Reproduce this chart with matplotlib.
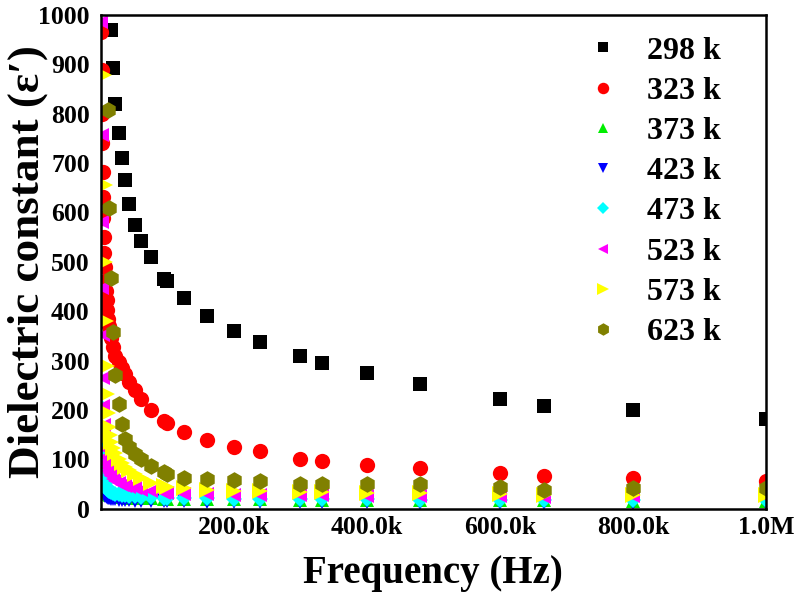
import numpy as np
import matplotlib
matplotlib.use("Agg")
import matplotlib.pyplot as plt

plt.rcParams['font.family'] = ['Liberation Serif', 'DejaVu Serif']
plt.rcParams['font.weight'] = 'bold'

nan = np.nan
freq = [500, 1000, 1500, 2000, 2500, 3000, 3500, 4000, 4500, 5000, 6000, 7000, 8000, 9000,
        10000, 11000, 12000, 13500,
        15000, 18000, 22000, 27000, 32000, 36000, 42000, 51000, 60000, 75000, 95000, 100000,
        125000, 160000, 200000, 240000, 300000, 333000, 400000, 480000, 600000, 666000,
        800000, 1000000]

eps_298 = [nan] * 18 + [970, 893, 820, 760, 710, 665, 617, 575, 543, 510, 465, 462,
                        427, 390, 360, 338, 310, 296, 275, 253, 222, 209, 199, 182]
eps_323 = [nan, 966, 888, 800, 740, 682, 631, 588, 550, 517, 490, 462, 440, 422, 402, 385, 370, 357,
           345, 327, 310, 298, 285, 272, 256, 240, 222, 199, 178, 174,
           156, 140, 124, 116, 101, 96, 88, 83, 73, 67, 63, 57]
eps_373 = [nan, 150, 110, 88, 72, 62, 55, 50, 46, 43, 40, 37, 35, 33, 31, 30, 29, 28,
           27, 26, 25, 24, 23, 23, 22, 22, 21, 21, 20, 20,
           20, 19, 19, 19, 18, 18, 18, 17, 17, 17, 16, 16]
eps_423 = [nan, 110, 75, 55, 45, 40, 36, 33, 31, 29, 27, 26, 25, 24, 23, 22, 21, 21,
           20, 19, 19, 18, 18, 17, 17, 16, 16, 16, 15, 15,
           15, 14, 14, 14, 13, 13, 13, 12, 12, 12, 11, 11]
eps_473 = [nan, 205, 160, 120, 95, 80, 70, 63, 58, 54, 50, 46, 43, 41, 39, 37, 36, 35,
           34, 32, 30, 29, 28, 27, 26, 25, 24, 23, 22, 22,
           21, 21, 20, 20, 19, 19, 19, 18, 18, 17, 17, 17]
eps_523 = [nan, 986, 757, 580, 446, 351, 264, 209, 170, 145, 120, 105, 95, 88, 82, 77, 73, 69,
           66, 60, 56, 52, 49, 46, 44, 41, 38, 35, 32, 32,
           30, 29, 28, 28, 27, 27, 26, 26, 25, 24, 25, 24]
eps_573 = [nan, nan, nan, nan, nan, nan, nan, nan, nan, 878, 655, 499, 381, 290, 233, 193, 165, 150,
           135, 122, 112, 100, 92, 85, 78, 70, 62, 52, 46, 45,
           41, 38, 36, 35, 33, 33, 32, 31, 29, 27, 28, 27]
eps_623 = [nan] * 15 + [808, 608, nan,
                        468, 357, 270, 213, 172, 142, 124, 110, 100, 87, 75, 71,
                        63, 61, 59, 57, 51, 51, 51, 51, 43, 37, 41, 41]

labels = ['298 k', '323 k', '373 k', '423 k', '473 k', '523 k', '573 k', '623 k']
series = [eps_298, eps_323, eps_373, eps_423, eps_473, eps_523, eps_573, eps_623]
colors = ['#000000', '#ff0000', '#00ee00', '#0000ff', '#00ffff', '#ff00ff', '#ffff00', '#808000']
markers = ['s', 'o', '^', 'v', 'D', '<', '>', 'h']
sizes = [9.5, 11, 10, 10, 8, 10, 11, 12]

xticks = [200000, 400000, 600000, 800000, 1000000]
xticklabels = ['200.0k', '400.0k', '600.0k', '800.0k', '1.0M']
yticks = list(range(0, 1001, 100))

fig = plt.figure(figsize=(8, 5.95), dpi=100)
ax = fig.add_axes([0.126, 0.145, 0.8315, 0.83])

for y, lab, c, m, s in zip(series, labels, colors, markers, sizes):
    ax.plot(freq, y, linestyle='none', marker=m, color=c, markersize=s,
            markeredgewidth=0, label=lab)

ax.set_xlim(0, 1000000)
ax.set_ylim(0, 1000)
ax.set_xticks(xticks)
ax.set_xticklabels(xticklabels)
ax.set_yticks(yticks)
ax.tick_params(length=0, labelsize=18.5)
ax.tick_params(axis='y', pad=8)
ax.tick_params(axis='x', pad=5)
for t in ax.get_xticklabels() + ax.get_yticklabels():
    t.set_fontweight('bold')
for sp in ax.spines.values():
    sp.set_linewidth(1.8)

ax.set_xlabel('Frequency (Hz)', fontsize=28, fontweight='bold', labelpad=12)
ax.set_ylabel('Dielectric constant (ε′)', fontsize=32.5, fontweight='bold')
ax.yaxis.set_label_coords(-0.079, 0.5)

leg = ax.legend(loc='upper right', bbox_to_anchor=(0.975, 1.015), frameon=False,
                prop={'size': 23, 'weight': 'bold'}, markerscale=0.75,
                labelspacing=0.34, handletextpad=0.97, handlelength=0.8)

fig.savefig('out.png', dpi=100)
